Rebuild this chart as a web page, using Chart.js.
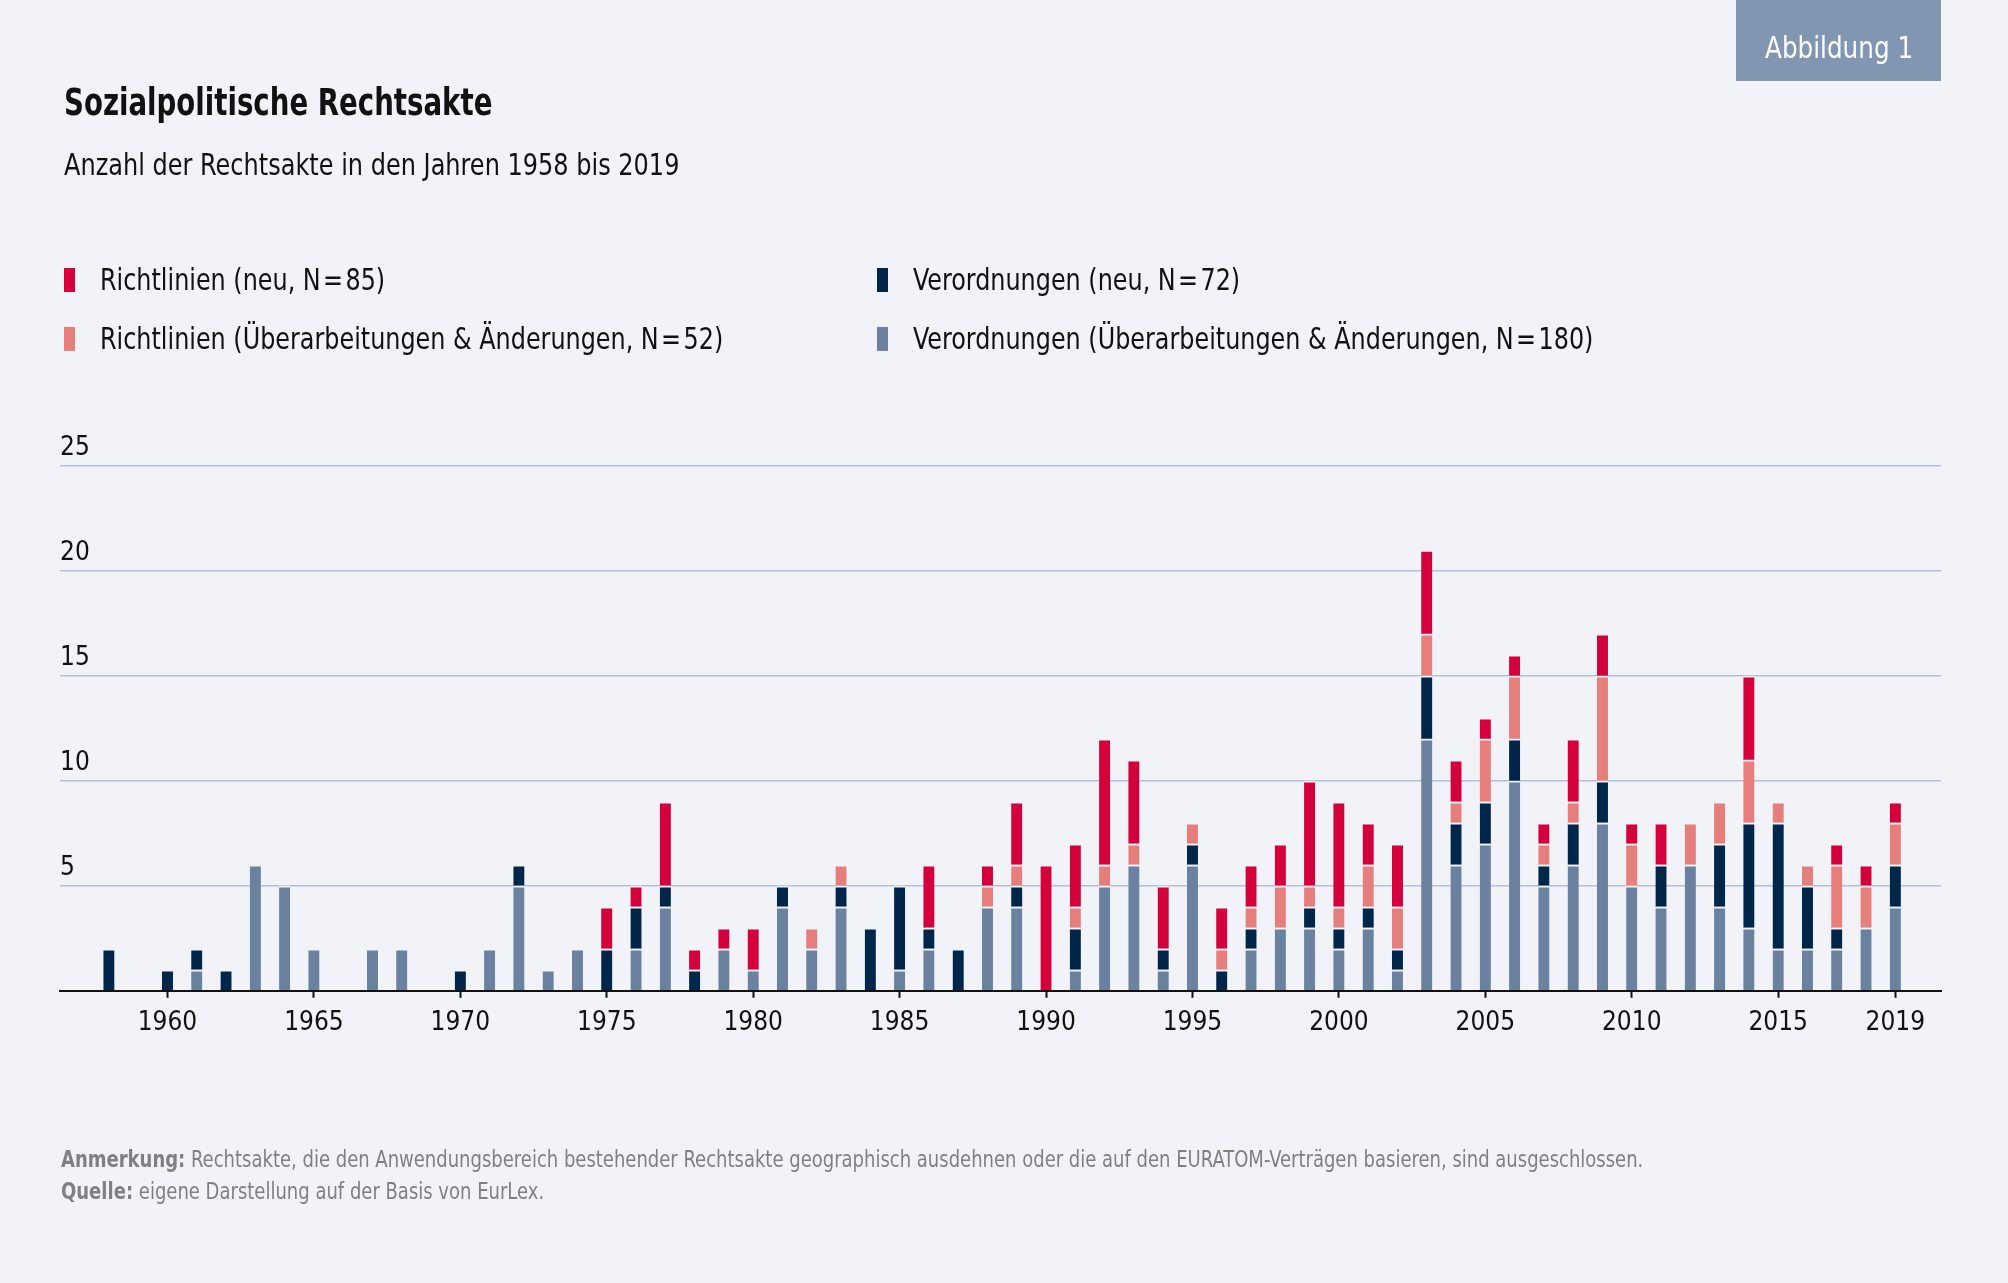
<!DOCTYPE html>
<html lang="de">
<head>
<meta charset="utf-8">
<script src="https://cdn.jsdelivr.net/npm/chart.js@4.4.1/dist/chart.umd.min.js"></script>
<style>
  html, body { margin: 0; padding: 0; background: #f2f3f8; }
  body { width: 2008px; height: 1283px; position: relative; overflow: hidden;
         font-family: "Liberation Sans Narrow", "DejaVu Sans Condensed", sans-serif; color: #111; }
  #wrap { position: absolute; left: 0; top: 0; width: 2008px; height: 1283px; }
  .abs { position: absolute; white-space: nowrap; transform-origin: 0 0; }
  #badge { left: 1736px; top: 0; width: 205px; height: 81px; background: #8096b1; }
  #badge span { position: absolute; left: 29px; top: 7px; color: #fff; font-size: 31px; line-height: 81px;
                white-space: nowrap; transform: scaleX(0.885); transform-origin: 0 0; }
  #title { left: 64px; top: 81px; font-size: 37px; font-weight: bold; transform: scaleX(0.83); }
  #subtitle { left: 64px; top: 147px; font-size: 30px; transform: scaleX(0.89); }
  .lg { position: absolute; font-size: 30px; line-height: 36px; white-space: nowrap; }
  .lg i { position: absolute; left: -36px; top: 6px; width: 11px; height: 24px; }
  .lg span { display: inline-block; transform: scaleX(0.885); transform-origin: 0 0; }
  .note { position: absolute; left: 61px; font-size: 23px; color: #808080; white-space: nowrap;
          transform: scaleX(0.87); transform-origin: 0 0; }
  .note b { font-weight: bold; }
</style>
</head>
<body>
<div id="wrap"><canvas id="chart"></canvas></div>
<div id="badge" class="abs"><span>Abbildung 1</span></div>
<div id="title" class="abs">Sozialpolitische Rechtsakte</div>
<div id="subtitle" class="abs">Anzahl der Rechtsakte in den Jahren 1958 bis 2019</div>
<div id="legend"></div>
<div class="note" style="top:1146px"><b>Anmerkung:</b> Rechtsakte, die den Anwendungsbereich bestehender Rechtsakte geographisch ausdehnen oder die auf den EURATOM-Verträgen basieren, sind ausgeschlossen.</div>
<div class="note" style="top:1178px"><b>Quelle:</b> eigene Darstellung auf der Basis von EurLex.</div>
<script>
// Jahre 1958 - 2019
const years = [];
for (let y = 1958; y <= 2019; y++) years.push(y);

// Verordnungen (Überarbeitungen & Änderungen)
const verAend = [0,0,0,1,0,6,5,2,0,2, 2,0,0,2,5,1,2,0,2,4, 0,2,1,4,2,4,0,1,2,0,
                 4,4,0,1,5,6,1,6,0,2, 3,3,2,3,1,12,6,7,10,5, 6,8,5,4,6,4,3,2,2,2, 3,4];
// Verordnungen (neu)
const verNeu = [2,0,1,1,1,0,0,0,0,0, 0,0,1,0,1,0,0,2,2,1, 1,0,0,1,0,1,3,4,1,2,
                0,1,0,2,0,0,1,1,1,1, 0,1,1,1,1,3,2,2,2,1, 2,2,0,2,0,3,5,6,3,1, 0,2];
// Richtlinien (Überarbeitungen & Änderungen)
const riAend = [0,0,0,0,0,0,0,0,0,0, 0,0,0,0,0,0,0,0,0,0, 0,0,0,0,1,1,0,0,0,0,
                1,1,0,1,1,1,0,1,1,1, 2,1,1,2,2,2,1,3,3,1, 1,5,2,0,2,2,3,1,1,3, 2,2];
// Richtlinien (neu)
const riNeu = [0,0,0,0,0,0,0,0,0,0, 0,0,0,0,0,0,0,2,1,4, 1,1,2,0,0,0,0,0,3,0,
               1,3,6,3,6,4,3,0,2,2, 2,5,5,2,3,4,2,1,1,1, 3,2,1,2,0,0,4,0,0,1, 1,1];

const xTicks = [1960, 1965, 1970, 1975, 1980, 1985, 1990, 1995, 2000, 2005, 2010, 2015, 2019];
const yTicks = [0, 5, 10, 15, 20, 25];

const series = [
  { label: 'Verordnungen (Überarbeitungen & Änderungen, N=180)', data: verAend, color: '#6a819f' },
  { label: 'Verordnungen (neu, N=72)', data: verNeu, color: '#00264a' },
  { label: 'Richtlinien (Überarbeitungen & Änderungen, N=52)', data: riAend, color: '#e67e7b' },
  { label: 'Richtlinien (neu, N=85)', data: riNeu, color: '#d3003b' }
];

const FONT = '"Liberation Sans Narrow", "DejaVu Sans Condensed", sans-serif';
const BG = '#f2f3f8';

// Legende (zwei Spalten wie im Original)
const legendPos = [
  { s: 3, left: 100, top: 262 },
  { s: 1, left: 913, top: 262 },
  { s: 2, left: 100, top: 321 },
  { s: 0, left: 913, top: 321 }
];
const legendEl = document.getElementById('legend');
legendPos.forEach(p => {
  const d = document.createElement('div');
  d.className = 'lg';
  d.style.left = p.left + 'px';
  d.style.top = p.top + 'px';
  d.innerHTML = '<i style="background:' + series[p.s].color + '"></i><span>' +
    series[p.s].label.replace('N=', 'N\u200a=\u200a') + '</span>';
  legendEl.appendChild(d);
});

const ctx = document.getElementById('chart').getContext('2d');
const chart = new Chart(ctx, {
  type: 'bar',
  data: {
    datasets: series.map(s => ({
      label: s.label,
      data: years.map((y, i) => ({ x: y, y: s.data[i] || null })),
      backgroundColor: s.color,
      borderColor: BG,
      borderWidth: { top: 2, left: 0, right: 0, bottom: 0 },
      borderSkipped: false,
      barThickness: 11
    }))
  },
  options: {
    responsive: true,
    maintainAspectRatio: false,
    animation: false,
    layout: { padding: { left: 60, right: 67, top: 466, bottom: 234 } },
    plugins: {
      legend: { display: false },
      tooltip: { enabled: false }
    },
    scales: {
      x: {
        type: 'linear',
        stacked: true,
        offset: false,
        min: 1956.33,
        max: 2020.56,
        afterBuildTicks: axis => { axis.ticks = xTicks.map(v => ({ value: v })); },
        ticks: {
          autoSkip: false,
          maxRotation: 0,
          padding: 10,
          color: '#111',
          font: { family: FONT, size: 26 },
          callback: v => String(v)
        },
        grid: {
          display: true,
          offset: false,
          drawOnChartArea: false,
          drawTicks: true,
          tickLength: 7,
          tickWidth: 2,
          tickColor: '#111'
        },
        border: { display: true, color: '#111', width: 2 }
      },
      y: {
        stacked: true,
        min: 0,
        max: 25,
        afterBuildTicks: axis => { axis.ticks = yTicks.map(v => ({ value: v })); },
        ticks: {
          mirror: true,
          padding: 0,
          labelOffset: -18,
          color: '#111',
          font: { family: FONT, size: 26 },
          callback: v => (v === 0 ? '' : String(v))
        },
        grid: {
          color: '#b4c0d7',
          lineWidth: 1.5,
          drawTicks: false
        },
        border: { display: false }
      }
    }
  }
});
</script>
</body>
</html>
